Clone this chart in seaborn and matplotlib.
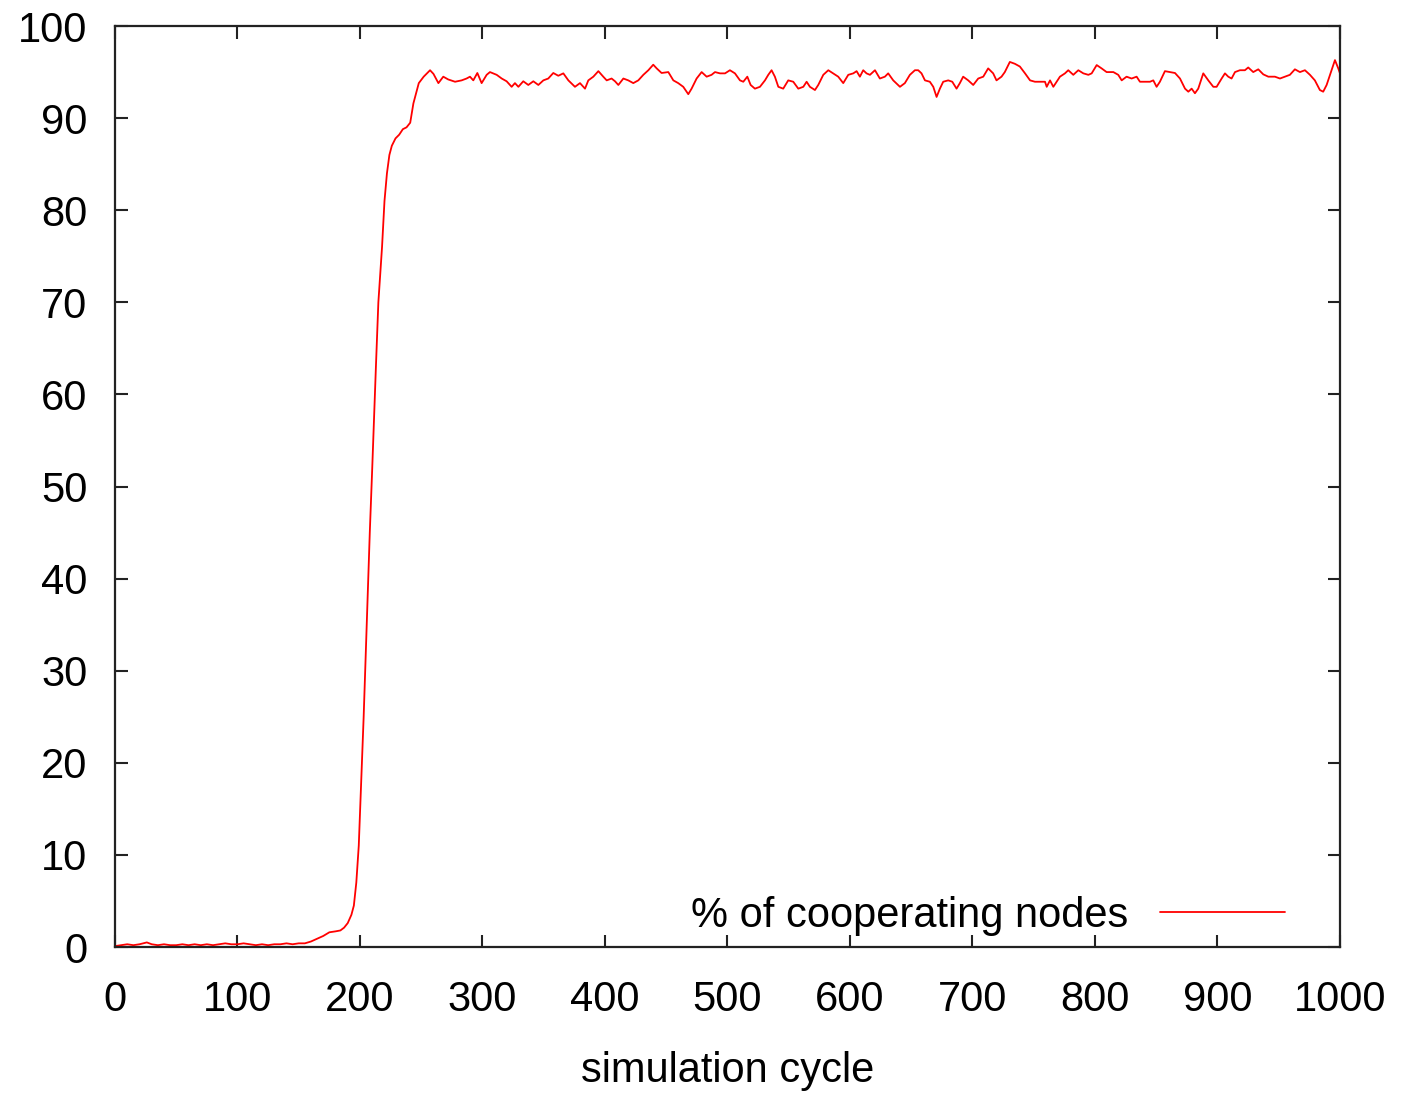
import numpy as np
import pandas as pd
import matplotlib
matplotlib.use("Agg")
import matplotlib.pyplot as plt
import seaborn as sns

# simulation cycle (x) and % of cooperating nodes (y)
cycle = [0, 5, 10, 15, 20, 26, 30, 35, 40, 45, 50, 55, 60, 65, 70, 75, 80, 85, 90, 95,
         100, 105, 110, 115, 120, 125, 130, 135, 140, 145, 150, 155, 160, 165, 170, 175,
         180, 184, 187, 190, 193, 195, 197, 199, 201, 203, 205, 208, 210, 213, 215, 218,
         220, 222, 224, 226, 229, 232, 235, 238, 241, 243.6, 248, 252, 257.2, 260, 264,
         268, 272, 277.6, 283, 287, 289.8, 292.5, 295.8, 299.3, 303.4, 306.1, 311.6,
         315.7, 319.7, 323.8, 326.5, 329.3, 333.3, 337.4, 341.5, 345.6, 349.7, 353.7,
         357.8, 361.9, 366, 370.1, 375.5, 379.6, 383.7, 386.4, 390.5, 394.6, 398.6, 401.4,
         405.4, 408.2, 410.9, 415, 419, 423.1, 427.2, 431.3, 435.4, 439.4, 442.2, 446.2,
         451.7, 455.8, 459.8, 463.9, 468, 470.7, 474.8, 478.9, 483, 487, 489.8, 493.9,
         498, 502, 506.1, 510.2, 512.9, 516.2, 518.9, 522.4, 526.5, 530.6, 533.3, 536,
         538.7, 541.5, 545.5, 549.6, 553.7, 557.8, 561.9, 564.6, 567.3, 571.4, 574.1,
         578.2, 582.3, 586.3, 590.4, 594.5, 598.6, 602.7, 605.4, 608.1, 610.8, 613.5,
         616.3, 620.4, 624.4, 628.5, 631.2, 635.3, 640.8, 644.8, 648.9, 653, 655.7, 658.4,
         661.2, 665.2, 668, 670.7, 673.4, 676.1, 680.2, 683.5, 687, 689.7, 692.4, 696.5,
         700.6, 704.7, 708.8, 712.8, 716.9, 719.6, 723.7, 726.4, 730.5, 734.6, 738.7,
         742.9, 747, 751, 755.1, 759.2, 760.6, 763.3, 766, 768.7, 771.4, 775.5, 778.2,
         782.3, 786.4, 790.5, 794.6, 797.3, 801.4, 805.4, 809.5, 815, 819, 821.8, 825.8,
         829.9, 834, 836.7, 840.8, 844.9, 847.6, 850.3, 853, 857.1, 861.2, 865.3, 869.4,
         873.5, 876.2, 878.9, 881.6, 884.3, 888.4, 892.5, 896.6, 899.3, 903.4, 906.1,
         908.8, 911.5, 914.3, 918.3, 922.4, 925.1, 929.2, 933.3, 937.4, 941.5, 946.9,
         951, 955.1, 959.1, 963.2, 967.3, 971.4, 975.5, 979.5, 983.6, 986.3, 989.1,
         993.1, 995.9, 998.6, 1000]

cooperating = [0.1, 0.2, 0.3, 0.2, 0.3, 0.5, 0.3, 0.2, 0.3, 0.2, 0.2, 0.3, 0.2, 0.3, 0.2, 0.3,
               0.2, 0.3, 0.4, 0.3, 0.3, 0.4, 0.3, 0.2, 0.3, 0.2, 0.3, 0.3, 0.4, 0.3, 0.4, 0.4,
               0.6, 0.9, 1.2, 1.6, 1.7, 1.8, 2.1, 2.6, 3.5, 4.5, 7.0, 11.0, 18.0, 25.0, 33.0,
               45.0, 52.0, 63.0, 70.0, 76.0, 81.0, 84.0, 86.0, 87.0, 87.8, 88.2, 88.8, 89.0,
               89.5, 91.6, 93.8, 94.5, 95.2, 94.8, 93.8, 94.5, 94.2, 93.95, 94.1, 94.3, 94.5,
               94.1, 94.9, 93.8, 94.7, 95.0, 94.7, 94.3, 94.0, 93.4, 93.8, 93.4, 94.0, 93.6,
               94.0, 93.6, 94.1, 94.3, 94.9, 94.6, 94.86, 94.1, 93.4, 93.8, 93.2, 94.1, 94.5,
               95.1, 94.5, 94.1, 94.3, 94.0, 93.6, 94.3, 94.1, 93.8, 94.1, 94.7, 95.2, 95.8,
               95.4, 94.9, 95.0, 94.1, 93.8, 93.4, 92.6, 93.2, 94.3, 95.0, 94.5, 94.7, 95.0,
               94.86, 94.86, 95.2, 94.86, 94.1, 93.95, 94.5, 93.6, 93.2, 93.4, 94.1, 94.7,
               95.2, 94.5, 93.4, 93.2, 94.1, 93.95, 93.2, 93.4, 93.95, 93.4, 93.05, 93.6,
               94.7, 95.2, 94.86, 94.5, 93.8, 94.7, 94.86, 95.1, 94.5, 95.2, 94.86, 94.7,
               95.2, 94.3, 94.5, 94.86, 94.1, 93.4, 93.8, 94.7, 95.2, 95.2, 94.86, 94.1,
               93.95, 93.4, 92.3, 93.2, 93.95, 94.1, 93.95, 93.2, 93.8, 94.5, 94.1, 93.6,
               94.3, 94.5, 95.4, 94.86, 94.1, 94.5, 95.0, 96.1, 95.9, 95.6, 94.86, 94.1,
               93.95, 93.95, 93.95, 93.4, 94.1, 93.4, 93.95, 94.5, 94.86, 95.2, 94.7, 95.2,
               94.86, 94.7, 94.86, 95.76, 95.4, 95.0, 95.0, 94.7, 94.1, 94.5, 94.3, 94.5,
               93.95, 93.95, 93.95, 94.1, 93.4, 93.95, 95.1, 95.0, 94.9, 94.3, 93.2, 92.87,
               93.2, 92.7, 93.2, 94.86, 94.1, 93.4, 93.4, 94.3, 94.86, 94.5, 94.3, 95.0,
               95.2, 95.2, 95.5, 95.0, 95.3, 94.75, 94.5, 94.5, 94.3, 94.5, 94.7, 95.3, 95.0,
               95.2, 94.7, 94.1, 93.05, 92.87, 93.6, 95.2, 96.3, 95.4, 94.86]

x_ticks = [0, 100, 200, 300, 400, 500, 600, 700, 800, 900, 1000]
y_ticks = [0, 10, 20, 30, 40, 50, 60, 70, 80, 90, 100]
series_label = "% of cooperating nodes"

df = pd.DataFrame({"simulation cycle": cycle, "value": cooperating})

sns.set_style("ticks")
plt.rcParams["font.family"] = ["Liberation Sans", "DejaVu Sans"]
plt.rcParams["text.color"] = "black"
plt.rcParams["axes.labelcolor"] = "black"
plt.rcParams["xtick.color"] = "black"
plt.rcParams["ytick.color"] = "black"

FS = 30

fig = plt.figure(figsize=(14.04, 10.98), dpi=100)
ax = fig.add_axes([0.0819, 0.1375, 0.8725, 0.8388])

sns.lineplot(data=df, x="simulation cycle", y="value", ax=ax, color="#ff0000",
             linewidth=1.3, label=series_label, estimator=None, sort=False)

ax.set_xlim(0, 1000)
ax.set_ylim(0, 100)
ax.set_xticks(x_ticks)
ax.set_yticks(y_ticks)
ax.set_xlabel("simulation cycle", fontsize=FS, labelpad=22, color="black")
ax.set_ylabel("")

for s in ax.spines.values():
    s.set_visible(True)
    s.set_linewidth(1.6)
    s.set_color("#222222")

ax.tick_params(axis="both", which="major", direction="in", length=9, width=1.5,
               color="#222222", labelcolor="black", labelsize=FS, top=True, right=True)
ax.tick_params(axis="x", pad=24)
ax.tick_params(axis="y", pad=20)

leg = ax.legend(loc="lower right", bbox_to_anchor=(0.955, 0.012), frameon=False,
                markerfirst=False, handlelength=3.0, handletextpad=0.75, fontsize=FS,
                borderaxespad=0.0, borderpad=0.0)
for line in leg.get_lines():
    line.set_linewidth(1.3)
for t in leg.get_texts():
    t.set_color("black")

fig.savefig("out.png", dpi=100)
